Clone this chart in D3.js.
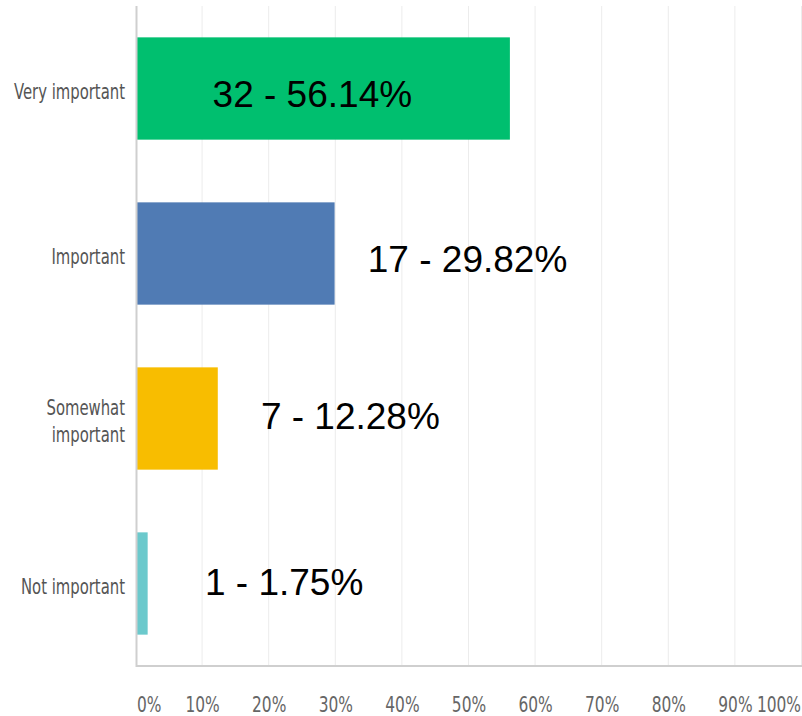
<!DOCTYPE html>
<html>
<head>
<meta charset="utf-8">
<script src="https://cdn.jsdelivr.net/npm/d3@7"></script>
<style>
  body { margin: 0; background: #fff; }
  svg { display: block; }
  .cat { font-family: "DejaVu Sans Condensed", "DejaVu Sans", sans-serif; font-stretch: condensed; font-size: 22px; fill: #555; }
  .tick { font-family: "DejaVu Sans Condensed", "DejaVu Sans", sans-serif; font-stretch: condensed; font-size: 22px; fill: #666; }
  .val { font-family: "Liberation Sans", Arial, sans-serif; font-size: 37px; fill: #000; }
</style>
</head>
<body>
<svg id="chart" width="802" height="716"></svg>
<script>
// data
var categories = ["Very important", "Important", "Somewhat important", "Not important"]
var counts = [32, 17, 7, 1]
var percents = [56.14, 29.82, 12.28, 1.75]
var tickValues = [0, 10, 20, 30, 40, 50, 60, 70, 80, 90, 100]
var tickLabels = ["0%", "10%", "20%", "30%", "40%", "50%", "60%", "70%", "80%", "90%", "100%"]

// layout / style
var barColors = ["#00bf6f", "#507bb4", "#f8bd00", "#6bc9cc"]
var labelAt = [11.5, 34.8, 18.75, 10.35]    // where each value label starts, in % units
var labelDy = [18, 18, 10, 11]              // baseline offset from bar centre
var catLines = [["Very important"], ["Important"], ["Somewhat", "important"], ["Not important"]]
var catSqueeze = 0.75   // the source picture's axis text is squashed sideways
var tickSqueeze = 0.78

var svg = d3.select("#chart")
var plotLeft = 136, plotRight = 802, plotTop = 6, plotBottom = 666

var x = d3.scaleLinear().domain([0, 100]).range([plotLeft, plotRight])
var y = d3.scaleBand().domain(categories).range([plotTop, plotBottom])
  .paddingInner(0.38).paddingOuter(0.19)

// grid lines
svg.append("g")
  .selectAll("line")
  .data(tickValues.slice(1))
  .enter().append("line")
  .attr("x1", function(d) { return x(d) - 0.5 })
  .attr("x2", function(d) { return x(d) - 0.5 })
  .attr("y1", plotTop)
  .attr("y2", plotBottom)
  .attr("stroke", "#ececec")
  .attr("stroke-width", 1)

// bars
svg.append("g")
  .selectAll("rect")
  .data(categories)
  .enter().append("rect")
  .attr("x", x(0))
  .attr("y", function(d) { return y(d) })
  .attr("width", function(d, i) { return x(percents[i]) - x(0) })
  .attr("height", y.bandwidth())
  .attr("fill", function(d, i) { return barColors[i] })

// axis lines
svg.append("path")
  .attr("d", "M" + (plotLeft + 0.5) + "," + plotTop + "V" + plotBottom + "H" + plotRight)
  .attr("fill", "none")
  .attr("stroke", "#cfcfcf")
  .attr("stroke-width", 2)

// category labels
svg.append("g")
  .selectAll("text")
  .data(categories)
  .enter().append("text")
  .attr("class", "cat")
  .attr("text-anchor", "end")
  .attr("transform", function(d, i) {
    var c = y(d) + y.bandwidth() / 2
    var yy = c + 10 - (catLines[i].length - 1) * 14
    return "translate(" + (plotLeft - 11) + "," + yy + ") scale(" + catSqueeze + ",1)"
  })
  .each(function(d, i) {
    var t = d3.select(this)
    catLines[i].forEach(function(line, k) {
      t.append("tspan").attr("x", 0).attr("dy", k === 0 ? 0 : 28).text(line)
    })
  })

// tick labels
svg.append("g")
  .selectAll("text")
  .data(tickValues)
  .enter().append("text")
  .attr("class", "tick")
  .attr("transform", function(d, i) {
    var xx = x(d)
    if (i === 0) xx += 1
    if (i === tickValues.length - 1) xx -= 1
    return "translate(" + xx + ",712) scale(" + tickSqueeze + ",1)"
  })
  .attr("text-anchor", function(d, i) {
    if (i === 0) return "start"
    if (i === tickValues.length - 1) return "end"
    return "middle"
  })
  .text(function(d, i) { return tickLabels[i] })

// value labels
svg.append("g")
  .selectAll("text")
  .data(categories)
  .enter().append("text")
  .attr("class", "val")
  .attr("x", function(d, i) { return x(labelAt[i]) })
  .attr("y", function(d, i) { return y(d) + y.bandwidth() / 2 + labelDy[i] })
  .text(function(d, i) { return counts[i] + " - " + percents[i].toFixed(2) + "%" })
</script>
</body>
</html>
